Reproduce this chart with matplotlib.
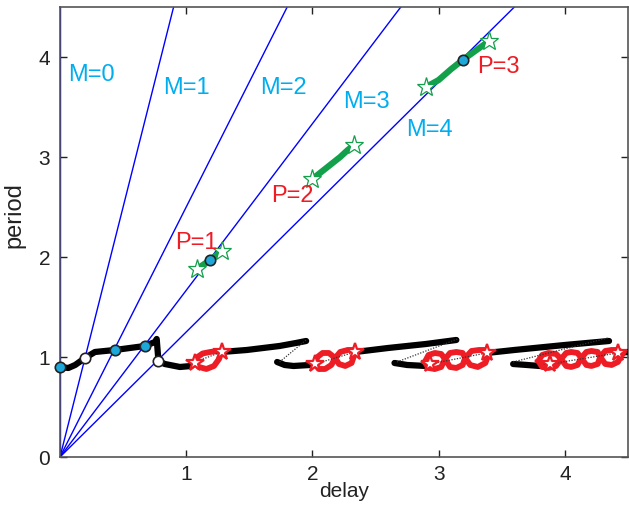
import numpy as np
import matplotlib
matplotlib.use('Agg')
import matplotlib.pyplot as plt

plt.rcParams['font.family'] = ['Liberation Sans', 'DejaVu Sans']

# Params:
_RED    = '#ee1c25'
_GREEN  = '#12a04a'
_CYAN   = '#00aeef'
_BALL   = '#1ea7d9'

# ---- data ----
m_orders  = [0, 1, 2, 3, 4]
m_ratio   = [0.0, 0.2, 0.4, 0.6, 0.8]          # delay / period along each line
m_label_xy = [(0.25, 3.83), (1.00, 3.70), (1.77, 3.70), (2.43, 3.56), (2.93, 3.28)]

p_labels   = ['P=1', 'P=2', 'P=3']
p_label_xy = [(1.08, 2.15), (1.84, 2.62), (3.47, 3.91)]

# black stable branches (delay, period)
black_branches = [
    ([0.00, 0.066, 0.12, 0.198, 0.277, 0.435, 0.673, 0.752, 0.766, 0.78, 0.83, 0.95, 1.04, 1.07],
     [0.90, 0.89, 0.92, 0.99, 1.05, 1.07, 1.11, 1.15, 1.18, 0.96, 0.93, 0.90, 0.91, 0.94]),
    ([1.28, 1.48, 1.74, 1.87, 1.95], [1.05, 1.07, 1.11, 1.14, 1.16]),
    ([1.72, 1.78, 1.85, 1.98, 2.02], [0.95, 0.92, 0.91, 0.92, 0.93]),
    ([2.34, 2.60, 2.90, 3.14], [1.05, 1.09, 1.13, 1.17]),
    ([2.65, 2.75, 2.90, 2.93], [0.94, 0.92, 0.91, 0.93]),
    ([3.38, 3.60, 4.00, 4.35], [1.04, 1.07, 1.12, 1.16]),
    ([3.59, 3.70, 3.80, 3.88], [0.93, 0.92, 0.91, 0.93]),
    ([4.42, 4.50], [1.04, 1.05]),
]

# dotted unstable branches
dotted_branches = [
    ([1.74, 1.95], [0.95, 1.17]),
    ([2.67, 3.15], [0.95, 1.18]),
    ([3.59, 4.34], [0.95, 1.19]),
    ([1.07, 1.28], [0.95, 1.05]),
    ([2.02, 2.34], [0.93, 1.05]),
    ([2.93, 3.38], [0.93, 1.04]),
    ([3.88, 4.42], [0.93, 1.04]),
]

# red loop chains: upper and lower edges
red_top = [
    ([1.07, 1.09, 1.13, 1.19, 1.25, 1.28], [0.95, 1.00, 1.035, 1.05, 1.06, 1.05]),
    ([2.02, 2.04, 2.08, 2.13, 2.18, 2.22, 2.28, 2.33, 2.34],
     [0.93, 1.00, 1.04, 1.04, 0.99, 1.05, 1.07, 1.07, 1.05]),
    ([2.89, 2.92, 2.97, 3.02, 3.05, 3.09, 3.14, 3.19, 3.21, 3.26, 3.32, 3.37, 3.40],
     [0.95, 1.02, 1.04, 1.03, 0.98, 1.04, 1.05, 1.04, 0.99, 1.06, 1.07, 1.07, 1.04]),
    ([3.79, 3.82, 3.87, 3.93, 3.97, 4.01, 4.05, 4.10, 4.13, 4.17, 4.21, 4.26, 4.28, 4.32, 4.37, 4.42, 4.46],
     [0.96, 1.02, 1.04, 1.03, 0.98, 1.04, 1.05, 1.04, 0.99, 1.05, 1.06, 1.05, 1.00, 1.06, 1.07, 1.07, 1.04]),
]
red_bot = [
    ([1.07, 1.10, 1.16, 1.22, 1.26, 1.28], [0.95, 0.90, 0.88, 0.91, 0.98, 1.05]),
    ([2.02, 2.05, 2.10, 2.15, 2.18, 2.21, 2.26, 2.31, 2.34],
     [0.93, 0.88, 0.88, 0.92, 0.99, 0.93, 0.91, 0.94, 1.05]),
    ([2.89, 2.92, 2.97, 3.02, 3.05, 3.09, 3.14, 3.19, 3.21, 3.25, 3.31, 3.37, 3.40],
     [0.95, 0.89, 0.88, 0.90, 0.98, 0.90, 0.89, 0.92, 0.99, 0.92, 0.90, 0.94, 1.04]),
    ([3.79, 3.82, 3.87, 3.93, 3.97, 4.01, 4.05, 4.10, 4.13, 4.17, 4.21, 4.26, 4.28, 4.32, 4.37, 4.42, 4.46],
     [0.96, 0.90, 0.89, 0.91, 0.98, 0.91, 0.90, 0.92, 0.99, 0.92, 0.91, 0.93, 1.00, 0.93, 0.92, 0.95, 1.04]),
]
red_stars_d = [1.07, 1.28, 2.02, 2.34, 2.93, 3.38, 3.88, 4.42]
red_stars_p = [0.94, 1.05, 0.93, 1.05, 0.93, 1.04, 0.93, 1.04]

# green periodic branches
green_branches = [
    ([1.085, 1.19, 1.28], [1.88, 1.97, 2.06]),
    ([2.00, 2.08, 2.15, 2.22, 2.28, 2.33], [2.78, 2.86, 2.93, 3.00, 3.07, 3.12]),
    ([2.90, 3.00, 3.10, 3.19, 3.30, 3.40], [3.70, 3.77, 3.88, 3.97, 4.07, 4.16]),
]

blue_pts_d  = [0.0, 0.435, 0.673, 1.19, 3.19]
blue_pts_p  = [0.90, 1.07, 1.11, 1.97, 3.97]
white_pts_d = [0.198, 0.78]
white_pts_p = [0.99, 0.96]

x_range = (0, 4.5)
y_range = (0, 4.5)

#%% Plot
fig = plt.figure(figsize=(6.29, 5.06), dpi=100)
ax = fig.add_axes([0.0954, 0.0949, 0.9030, 0.8893])

for r in m_ratio:
    ax.plot([0, r * y_range[1]], [0, y_range[1]], color='blue', lw=1.0, zorder=2)
for m, (lx, ly) in zip(m_orders, m_label_xy):
    ax.text(lx, ly, f'M={m}', color=_CYAN, fontsize=17, ha='center', va='center', zorder=6)

for d, p in black_branches:
    ax.plot(d, p, color='black', lw=4.5, solid_capstyle='round', zorder=3)

for (dt, pt), (db, pb) in zip(red_top, red_bot):
    ax.plot(dt, pt, color=_RED, lw=4.2, solid_joinstyle='round', zorder=4)
    ax.plot(db, pb, color=_RED, lw=4.2, solid_joinstyle='round', zorder=4)

for d, p in dotted_branches:
    ax.plot(d, p, color='#333333', lw=0.9, ls=(0, (1, 1.2)), zorder=5)

ax.plot(red_stars_d, red_stars_p, ls='none', marker='*', ms=13, mfc='white',
        mec=_RED, mew=1.6, zorder=6)

for d, p in green_branches:
    ax.plot(d, p, color=_GREEN, lw=4.5, solid_capstyle='round', zorder=4)
    ax.plot([d[0], d[-1]], [p[0], p[-1]], ls='none', marker='*', ms=14, mfc='white',
            mec=_GREEN, mew=0.9, zorder=6)

for lab, (lx, ly) in zip(p_labels, p_label_xy):
    ax.text(lx, ly, lab, color=_RED, fontsize=17, ha='center', va='center', zorder=6)

ax.plot(blue_pts_d, blue_pts_p, ls='none', marker='o', ms=7.5, mfc=_BALL,
        mec='#222222', mew=1.2, zorder=7, clip_on=False)
ax.plot(white_pts_d, white_pts_p, ls='none', marker='o', ms=7.5, mfc='white',
        mec='#222222', mew=1.2, zorder=7)

ax.set_xlim(x_range)
ax.set_ylim(y_range)
ax.set_xticks([1, 2, 3, 4])
ax.set_yticks([0, 1, 2, 3, 4])
ax.tick_params(direction='in', length=5, width=1, labelsize=15, colors='#222222',
               top=True, right=True, pad=5)
ax.tick_params(axis='y', pad=7)
for sp in ax.spines.values():
    sp.set_color('#555555')
    sp.set_linewidth(1.2)

ax.set_xlabel('delay', fontsize=15, color='#222222')
ax.set_ylabel('period', fontsize=17, color='#222222')
ax.xaxis.set_label_coords(0.5, -0.053)
ax.yaxis.set_label_coords(-0.06, 0.54)

fig.savefig('out.png', dpi=100)
